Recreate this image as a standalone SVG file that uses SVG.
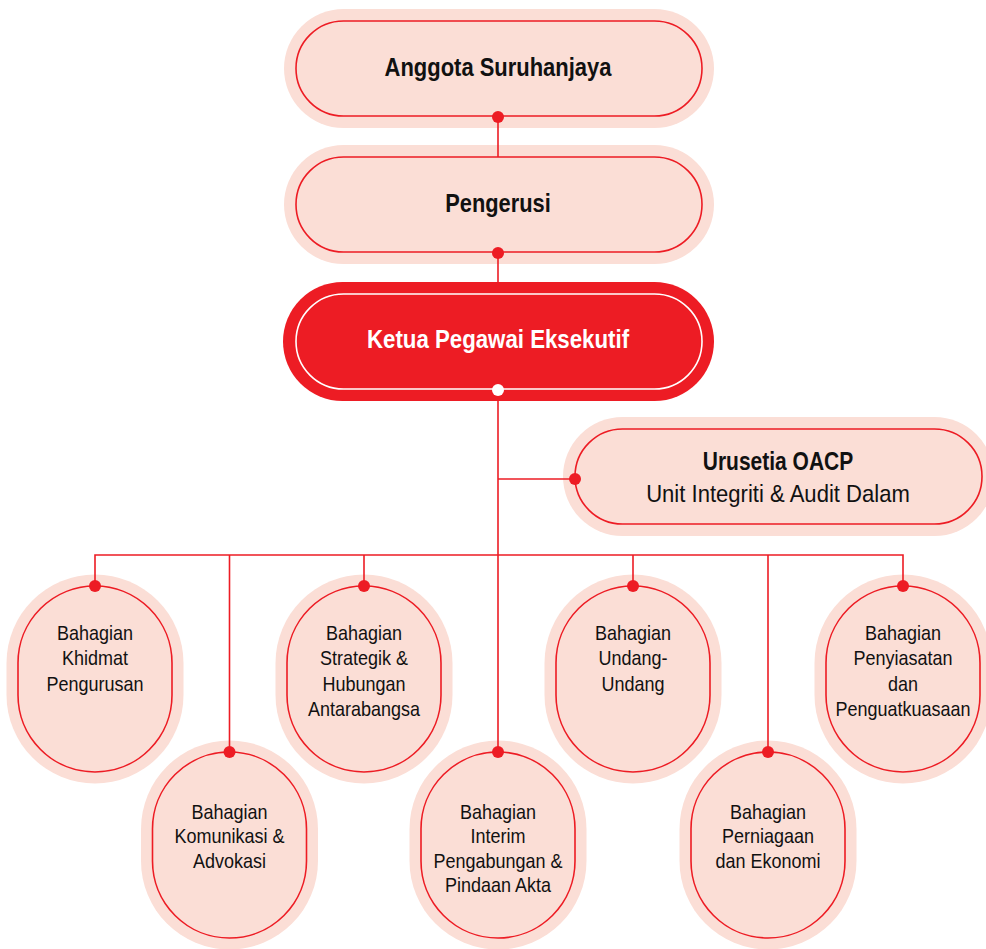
<svg xmlns="http://www.w3.org/2000/svg" width="986" height="949" viewBox="0 0 986 949">
<defs>
<style>
.halo{fill:#FBDED6;}
.inner{fill:#FBDED6;stroke:#ED1C24;stroke-width:1.6;}
.b{font-family:"Liberation Sans",Arial,sans-serif;font-weight:bold;font-size:26px;fill:#111;text-anchor:middle;}
.bo{font-family:"Liberation Sans",Arial,sans-serif;font-weight:bold;font-size:25px;fill:#111;text-anchor:middle;}
.ro{font-family:"Liberation Sans",Arial,sans-serif;font-size:24px;fill:#111;text-anchor:middle;}
.r{font-family:"Liberation Sans",Arial,sans-serif;font-size:20px;fill:#111;text-anchor:middle;}
.ln{stroke:#ED1C24;stroke-width:1.6;fill:none;}
.dot{fill:#ED1C24;}
</style>
</defs>
<rect width="986" height="949" fill="#ffffff"/>

<g id="node-anggota">
<rect class="halo" x="284" y="9" width="430" height="119" rx="59.5"/>
<rect class="inner" x="296" y="21" width="406" height="95" rx="47.5"/>
<text class="b" transform="translate(498 76) scale(0.845 1)">Anggota Suruhanjaya</text>
</g>

<g id="node-pengerusi">
<rect class="halo" x="284" y="145" width="430" height="119" rx="59.5"/>
<rect class="inner" x="296" y="157" width="406" height="95" rx="47.5"/>
<text class="b" transform="translate(498 212) scale(0.84 1)">Pengerusi</text>
</g>

<g id="node-ceo">
<rect x="283" y="282" width="431" height="119" rx="59.5" fill="#ED1C24"/>
<rect x="296" y="294" width="406" height="95" rx="47.5" fill="#ED1C24" stroke="#ffffff" stroke-width="1.6"/>
<text class="b" fill="#ffffff" style="fill:#ffffff" transform="translate(498 348) scale(0.856 1)">Ketua Pegawai Eksekutif</text>
</g>

<g id="node-oacp">
<rect class="halo" x="563" y="417" width="431" height="119" rx="59.5"/>
<rect class="inner" x="575" y="429" width="407" height="95" rx="47.5"/>
<text class="bo" transform="translate(778 470) scale(0.84 1)">Urusetia OACP</text>
<text class="ro" transform="translate(778 502) scale(0.92 1)">Unit Integriti &amp; Audit Dalam</text>
</g>

<g id="node-khidmat">
<rect class="halo" x="6.5" y="574.5" width="177" height="209" rx="88.5"/>
<rect class="inner" x="18" y="586" width="154" height="186" rx="77"/>
<text class="r" transform="translate(95 0) scale(0.9 1)"><tspan x="0" y="640">Bahagian</tspan><tspan x="0" y="665.5">Khidmat</tspan><tspan x="0" y="691">Pengurusan</tspan></text>
</g>

<g id="node-komunikasi">
<rect class="halo" x="141" y="740.5" width="177" height="209" rx="88.5"/>
<rect class="inner" x="152.5" y="752" width="154" height="186" rx="77"/>
<text class="r" transform="translate(229.5 0) scale(0.9 1)"><tspan x="0" y="819">Bahagian</tspan><tspan x="0" y="843.5">Komunikasi &amp;</tspan><tspan x="0" y="868">Advokasi</tspan></text>
</g>

<g id="node-strategik">
<rect class="halo" x="275.5" y="574.5" width="177" height="209" rx="88.5"/>
<rect class="inner" x="287" y="586" width="154" height="186" rx="77"/>
<text class="r" transform="translate(364 0) scale(0.9 1)"><tspan x="0" y="640">Bahagian</tspan><tspan x="0" y="665.5">Strategik &amp;</tspan><tspan x="0" y="691">Hubungan</tspan><tspan x="0" y="716.5">Antarabangsa</tspan></text>
</g>

<g id="node-interim">
<rect class="halo" x="409.5" y="740.5" width="177" height="209" rx="88.5"/>
<rect class="inner" x="421" y="752" width="154" height="186" rx="77"/>
<text class="r" transform="translate(498 0) scale(0.9 1)"><tspan x="0" y="819">Bahagian</tspan><tspan x="0" y="843.5">Interim</tspan><tspan x="0" y="868">Pengabungan &amp;</tspan><tspan x="0" y="892.5">Pindaan Akta</tspan></text>
</g>

<g id="node-undang">
<rect class="halo" x="544.5" y="574.5" width="177" height="209" rx="88.5"/>
<rect class="inner" x="556" y="586" width="154" height="186" rx="77"/>
<text class="r" transform="translate(633 0) scale(0.9 1)"><tspan x="0" y="640">Bahagian</tspan><tspan x="0" y="665.5">Undang-</tspan><tspan x="0" y="691">Undang</tspan></text>
</g>

<g id="node-perniagaan">
<rect class="halo" x="679.5" y="740.5" width="177" height="209" rx="88.5"/>
<rect class="inner" x="691" y="752" width="154" height="186" rx="77"/>
<text class="r" transform="translate(768 0) scale(0.9 1)"><tspan x="0" y="819">Bahagian</tspan><tspan x="0" y="843.5">Perniagaan</tspan><tspan x="0" y="868">dan Ekonomi</tspan></text>
</g>

<g id="node-penyiasatan">
<rect class="halo" x="814.5" y="574.5" width="177" height="209" rx="88.5"/>
<rect class="inner" x="826" y="586" width="154" height="186" rx="77"/>
<text class="r" transform="translate(903 0) scale(0.9 1)"><tspan x="0" y="640">Bahagian</tspan><tspan x="0" y="665.5">Penyiasatan</tspan><tspan x="0" y="691">dan</tspan><tspan x="0" y="716.5">Penguatkuasaan</tspan></text>
</g>

<g id="connectors">
<path class="ln" d="M498 117 V157"/>
<path class="ln" d="M498 253 V282"/>
<path class="ln" d="M498 390 V752"/>
<path class="ln" d="M498 479 H575"/>
<path class="ln" d="M95 586 V555 H903 V586"/>
<path class="ln" d="M229.5 555 V752"/>
<path class="ln" d="M364 555 V586"/>
<path class="ln" d="M633 555 V586"/>
<path class="ln" d="M768 555 V752"/>
<circle class="dot" cx="498" cy="117" r="6"/>
<circle class="dot" cx="498" cy="253" r="6"/>
<circle cx="498" cy="390" r="6" fill="#ffffff"/>
<circle class="dot" cx="575" cy="479" r="6"/>
<circle class="dot" cx="95" cy="586" r="6"/>
<circle class="dot" cx="229.5" cy="752" r="6"/>
<circle class="dot" cx="364" cy="586" r="6"/>
<circle class="dot" cx="498" cy="752" r="6"/>
<circle class="dot" cx="633" cy="586" r="6"/>
<circle class="dot" cx="768" cy="752" r="6"/>
<circle class="dot" cx="903" cy="586" r="6"/>
</g>
</svg>
